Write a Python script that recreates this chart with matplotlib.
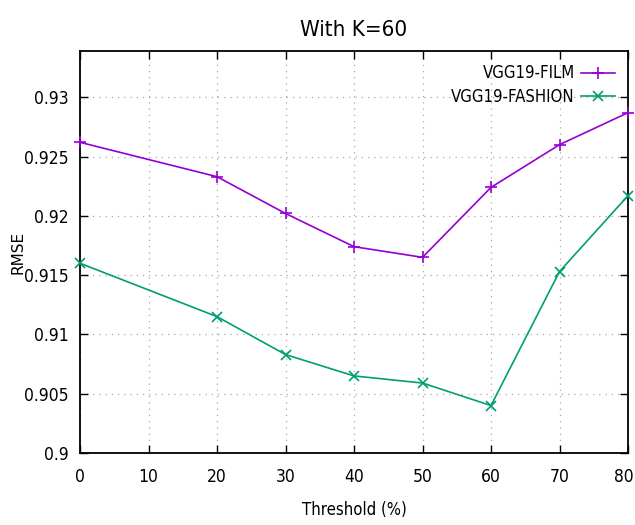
import matplotlib
matplotlib.use("Agg")
import matplotlib.pyplot as plt
from matplotlib.transforms import ScaledTranslation

# RMSE against threshold for the two VGG19 feature sets, K=60
threshold = [0, 20, 30, 40, 50, 60, 70, 80]
rmse_film = [0.9262, 0.9233, 0.9202, 0.9174, 0.9165, 0.9224, 0.9260, 0.9287]
rmse_fashion = [0.9160, 0.9115, 0.9083, 0.9065, 0.9059, 0.9040, 0.9153, 0.9217]

x_ticks = [0, 10, 20, 30, 40, 50, 60, 70, 80]
y_ticks = [0.9, 0.905, 0.91, 0.915, 0.92, 0.925, 0.93]
y_tick_labels = ["0.9", "0.905", "0.91", "0.915", "0.92", "0.925", "0.93"]

# gnuplot-like narrow face
plt.rcParams["font.family"] = ["Liberation Sans Narrow", "DejaVu Sans"]
plt.rcParams["font.stretch"] = "condensed"

W, H = 635, 525
fig = plt.figure(figsize=(W / 100, H / 100), dpi=100)
ax = fig.add_axes([80 / W, (H - 453) / H, 548 / W, (453 - 51) / H])

ax.plot(threshold, rmse_film, color="#9400D3", lw=1.2, marker="+",
        ms=9, mew=1.2, label="VGG19-FILM", clip_on=False, zorder=3)
ax.plot(threshold, rmse_fashion, color="#009E73", lw=1.2, marker="x",
        ms=7, mew=1.2, label="VGG19-FASHION", clip_on=False, zorder=3)

ax.set_xlim(0, 80)
ax.set_ylim(0.9, 0.9339)
ax.set_xticks(x_ticks)
ax.set_yticks(y_ticks)
ax.set_yticklabels(y_tick_labels)

ax.grid(True, color="#a8a8a8", linestyle=(0, (1, 4)), linewidth=0.9)
ax.tick_params(direction="in", length=6, width=1, top=True, right=True,
               labelsize=12.5)
ax.tick_params(axis="y", pad=8)
ax.tick_params(axis="x", pad=11)
for s in ax.spines.values():
    s.set_linewidth(1.3)

# keep the last x label inside the canvas
last = ax.get_xticklabels()[-1]
last.set_transform(last.get_transform()
                   + ScaledTranslation(-4 / 100, 0, fig.dpi_scale_trans))

ax.set_title("With K=60", fontsize=16, pad=11)
ax.set_xlabel("Threshold (%)", fontsize=12)
ax.xaxis.set_label_coords(0.5, -0.12)
ax.set_ylabel("RMSE", fontsize=11, family="DejaVu Sans", stretch="normal")
ax.yaxis.set_label_coords(-0.1, 0.5)

leg = ax.legend(loc="upper right", frameon=False, fontsize=12,
                markerfirst=False, handlelength=2.0, handletextpad=0.4,
                labelspacing=0.35, borderaxespad=0.4)

fig.savefig("out.png", dpi=100)
